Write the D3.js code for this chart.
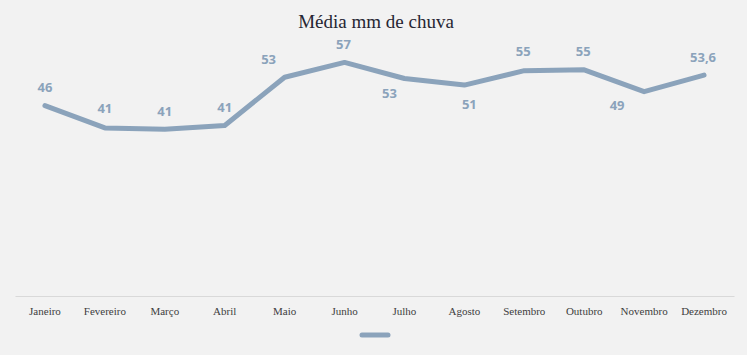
<!DOCTYPE html>
<html><head><meta charset="utf-8">
<script src="https://cdn.jsdelivr.net/npm/d3@7"></script>
<style>
html,body{margin:0;padding:0;background:#f2f2f2;}
svg{display:block;}
</style></head>
<body>
<script>
const months = ["Janeiro","Fevereiro","Março","Abril","Maio","Junho","Julho","Agosto","Setembro","Outubro","Novembro","Dezembro"];
const rainfall = [46.2, 40.8, 40.5, 41.4, 53.1, 56.7, 52.8, 51.2, 54.7, 54.9, 49.6, 53.6];
const valueLabels = ["46","41","41","41","53","57","53","51","55","55","49","53,6"];
const titleText = "Média mm de chuva";

// label placement nudges (dx, dy) relative to each point
const labelNudge = [[0,-18],[0,-19],[0,-18],[0,-18],[-16,-18],[-1,-18],[-15,15],[5,19],[-1,-19],[-1,-18],[-27,14],[-1,-18]];

const W = 747, H = 355;
const svg = d3.select("body").append("svg").attr("width", W).attr("height", H);
svg.append("rect").attr("width", W).attr("height", H).attr("fill", "#f2f2f2");

const x = d3.scaleBand().domain(months).range([15, 734]);
const y = d3.scaleLinear().domain([0, 60]).range([296, 48.8]);

svg.append("text").attr("x", 376).attr("y", 28).attr("text-anchor", "middle")
  .attr("font-family", "'Liberation Serif','DejaVu Serif',serif").attr("font-size", 19)
  .attr("fill", "#262633").text(titleText);

const xAxis = svg.append("g").attr("transform", "translate(0,296)")
  .call(d3.axisBottom(x).tickSize(0).tickPadding(11));
xAxis.select(".domain").attr("stroke", "#d9d9d9").attr("stroke-width", 1);
xAxis.selectAll("text").attr("font-family", "'Liberation Serif','DejaVu Serif',serif")
  .attr("font-size", 11).attr("fill", "#404040");

const cx = (d,i) => x(months[i]) + x.bandwidth()/2;
const line = d3.line().x((d,i) => cx(d,i)).y(d => y(d));
svg.append("path").datum(rainfall).attr("d", line).attr("fill", "none")
  .attr("stroke", "#8ba3bb").attr("stroke-width", 5).attr("stroke-linejoin", "round").attr("stroke-linecap", "round");

svg.append("g").selectAll("text").data(rainfall).join("text")
  .attr("x", (d,i) => cx(d,i) + labelNudge[i][0])
  .attr("y", (d,i) => y(d) + labelNudge[i][1])
  .attr("dy", "0.35em").attr("text-anchor", "middle")
  .attr("font-family", "'Open Sans','Noto Sans',sans-serif").attr("font-weight", "bold")
  .attr("font-size", 13).attr("fill", "#8ba3bb")
  .text((d,i) => valueLabels[i]);

svg.append("line").attr("x1", 362).attr("x2", 388).attr("y1", 335).attr("y2", 335)
  .attr("stroke", "#8ba3bb").attr("stroke-width", 5).attr("stroke-linecap", "round");
</script>
</body></html>
